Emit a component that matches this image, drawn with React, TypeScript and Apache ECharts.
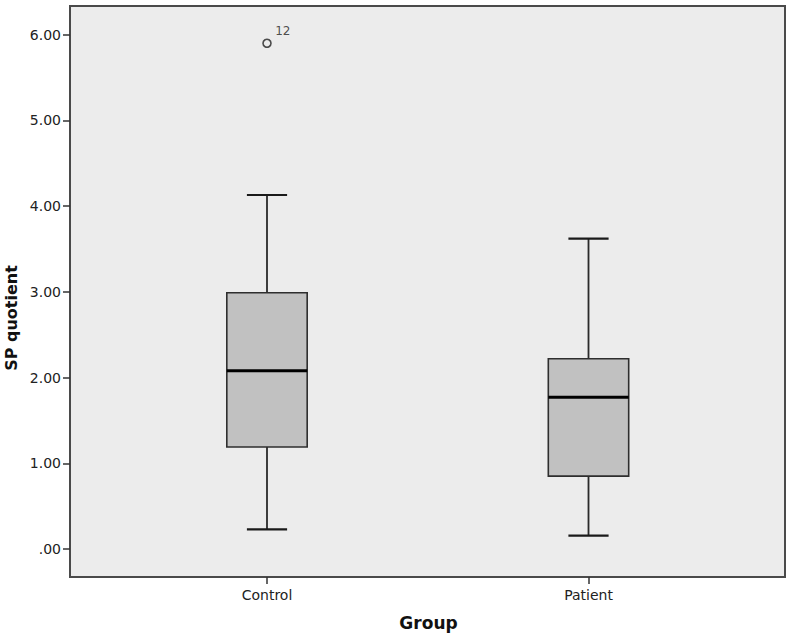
import React, { useEffect, useRef } from "react";
import * as echarts from "echarts";

const categories = ["Control", "Patient"];
const lowerWhisker = [0.23, 0.155];
const q1 = [1.19, 0.85];
const median = [2.08, 1.77];
const q3 = [2.99, 2.22];
const upperWhisker = [4.13, 3.62];
const outlierCategory = [0];
const outlierValue = [5.9];
const outlierLabel = ["12"];
const yTicks = [0, 1, 2, 3, 4, 5, 6];

const FONT = "DejaVu Sans";

export default function App() {
  const ref = useRef<HTMLDivElement>(null);
  useEffect(() => {
    if (!ref.current) return;
    const chart = echarts.init(ref.current, null, { renderer: "svg" });
    const boxData = categories.map((_, i) => [i, lowerWhisker[i], q1[i], median[i], q3[i], upperWhisker[i]]);
    const outData = outlierCategory.map((c, i) => ({ value: [c, outlierValue[i]], name: outlierLabel[i] }));
    const option: any = {
      animation: false,
      backgroundColor: "#ffffff",
      textStyle: { fontFamily: FONT },
      grid: [
        { left: 70, top: 6, width: 715, height: 571, show: true, backgroundColor: "#ececec", borderColor: "#4a4a4a", borderWidth: 2 },
        { left: 106.25, right: 37.75, top: 34.7, bottom: 86 },
        { left: 106.25, right: 37.75, top: 34.7, bottom: 58 },
      ],
      xAxis: [
        { gridIndex: 0, type: "value", min: 0, max: 1, show: false },
        { gridIndex: 1, type: "category", data: categories, show: false },
        {
          gridIndex: 2,
          type: "category",
          data: categories,
          axisLine: { show: false },
          axisTick: { show: true, alignWithLabel: true, length: 7, lineStyle: { color: "#333", width: 1.5 } },
          axisLabel: { color: "#222", fontSize: 14, margin: 11, fontFamily: FONT },
          splitLine: { show: false },
        },
      ],
      yAxis: [
        { gridIndex: 0, type: "value", min: 0, max: 1, show: false },
        {
          gridIndex: 1,
          type: "value",
          min: yTicks[0],
          max: yTicks[yTicks.length - 1],
          interval: 1,
          offset: 36.25,
          axisLine: { show: false },
          axisTick: { show: true, length: 7, lineStyle: { color: "#333", width: 1.5 } },
          axisLabel: {
            color: "#222",
            fontSize: 14,
            margin: 9,
            fontFamily: FONT,
            formatter: (v: number) => (v === 0 ? ".00" : v.toFixed(2)),
          },
          splitLine: { show: false },
        },
        { gridIndex: 2, type: "value", min: 0, max: 1, show: false },
      ],
      graphic: [
        {
          type: "text",
          x: 11,
          y: 318,
          rotation: Math.PI / 2,
          style: { text: "SP quotient", fontFamily: FONT, fontWeight: "bold", fontSize: 16, fill: "#111", align: "center", verticalAlign: "middle" },
        },
        {
          type: "text",
          x: 428.5,
          y: 623,
          style: { text: "Group", fontFamily: FONT, fontWeight: "bold", fontSize: 17, fill: "#111", align: "center", verticalAlign: "middle" },
        },
      ],
      series: [
        {
          type: "custom",
          xAxisIndex: 1,
          yAxisIndex: 1,
          data: boxData,
          encode: { x: 0, y: [1, 2, 3, 4, 5] },
          renderItem: (params: any, api: any) => {
            const idx = api.value(0);
            const lo = api.coord([idx, api.value(1)]);
            const a = api.coord([idx, api.value(2)]);
            const md = api.coord([idx, api.value(3)]);
            const b = api.coord([idx, api.value(4)]);
            const hi = api.coord([idx, api.value(5)]);
            const band = api.size([1, 0])[0];
            const bw = band * 0.25;
            const cw = bw / 2;
            const cx = md[0];
            const ws = { stroke: "#2a2a2a", lineWidth: 1.8 };
            const cs = { stroke: "#1a1a1a", lineWidth: 2.2 };
            return {
              type: "group",
              children: [
                { type: "line", shape: { x1: cx, y1: hi[1], x2: cx, y2: b[1] }, style: ws },
                { type: "line", shape: { x1: cx, y1: a[1], x2: cx, y2: lo[1] }, style: ws },
                { type: "line", shape: { x1: cx - cw / 2, y1: hi[1], x2: cx + cw / 2, y2: hi[1] }, style: cs },
                { type: "line", shape: { x1: cx - cw / 2, y1: lo[1], x2: cx + cw / 2, y2: lo[1] }, style: cs },
                {
                  type: "rect",
                  shape: { x: cx - bw / 2, y: b[1], width: bw, height: a[1] - b[1] },
                  style: { fill: "#c1c1c1", stroke: "#2e2e2e", lineWidth: 1.6 },
                },
                { type: "line", shape: { x1: cx - bw / 2, y1: md[1], x2: cx + bw / 2, y2: md[1] }, style: { stroke: "#000", lineWidth: 3 } },
              ],
            };
          },
        },
        {
          type: "scatter",
          xAxisIndex: 1,
          yAxisIndex: 1,
          data: outData,
          symbol: "circle",
          symbolSize: 8,
          itemStyle: { color: "#ececec", borderColor: "#222", borderWidth: 1.6 },
          label: {
            show: true,
            formatter: (p: any) => p.name,
            position: [13, -13],
            align: "left",
            verticalAlign: "top",
            fontSize: 12,
            color: "#222",
            fontFamily: FONT,
          },
        },
      ],
    };
    chart.setOption(option);
    return () => chart.dispose();
  }, []);
  return <div ref={ref} style={{ position: "fixed", left: 0, top: 0, width: 787, height: 635 }} />;
}
